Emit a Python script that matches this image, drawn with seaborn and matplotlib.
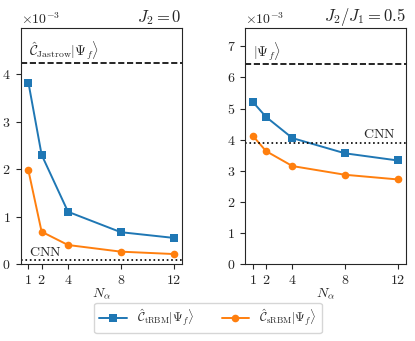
import numpy as np
import pandas as pd
import matplotlib
matplotlib.use("Agg")
import matplotlib.pyplot as plt
import seaborn as sns

n_alpha = [1, 2, 4, 8, 12]
left_trbm = [3.82, 2.30, 1.10, 0.67, 0.55]
left_srbm = [1.97, 0.68, 0.40, 0.26, 0.21]
right_trbm = [5.21, 4.73, 4.05, 3.56, 3.33]
right_srbm = [4.12, 3.63, 3.15, 2.87, 2.72]
left_jastrow = 4.23
left_cnn = 0.085
right_psi = 6.43
right_cnn = 3.90
labels = [r'$\hat{\mathcal{C}}_{\mathrm{tRBM}}|\Psi_f\rangle$',
          r'$\hat{\mathcal{C}}_{\mathrm{sRBM}}|\Psi_f\rangle$']
titles = [r'$J_2=0$', r'$J_2/J_1=0.5$']

sns.set_style('ticks')
plt.rcParams['font.family'] = ['cmr10']
plt.rcParams['mathtext.fontset'] = 'cm'
plt.rcParams['axes.formatter.use_mathtext'] = True
plt.rcParams['axes.unicode_minus'] = False

fig = plt.figure(figsize=(4.15, 3.41), dpi=100)
W, H = 415, 341
def box(x0, y0, x1, y1):
    return [x0 / W, 1 - y1 / H, (x1 - x0) / W, (y1 - y0) / H]
ax1 = fig.add_axes(box(20.5, 28, 181.5, 264))
ax2 = fig.add_axes(box(245, 28, 405.5, 264))

colors = ['#1f77b4', '#ff7f0e']
markers = ['s', 'o']

def panel(ax, trbm, srbm, ylim, yticks, hline, hlabel, cnn, cnn_right, title):
    df = pd.DataFrame({
        'N': n_alpha * 2,
        'val': np.array(list(trbm) + list(srbm)) * 1e-3,
        'series': [labels[0]] * 5 + [labels[1]] * 5,
    })
    for i, lab in enumerate(labels):
        sub = df[df['series'] == lab]
        sns.lineplot(data=sub, x='N', y='val', ax=ax, color=colors[i],
                     marker=markers[i], markersize=5.5, markeredgewidth=0,
                     linewidth=1.4, label=lab, legend=False)
    ax.axhline(hline * 1e-3, color='black', linestyle='--', linewidth=1.2)
    ax.axhline(cnn * 1e-3, color='black', linestyle=':', linewidth=1.2)
    ax.set_xlim(0.4, 12.6)
    ax.set_ylim(ylim[0] * 1e-3, ylim[1] * 1e-3)
    ax.set_xticks(n_alpha)
    ax.set_yticks(np.array(yticks) * 1e-3)
    ax.ticklabel_format(axis='y', style='sci', scilimits=(-3, -3), useMathText=True)
    ax.tick_params(labelsize=10, length=3.5, width=0.8)
    ax.set_xlabel(r'$N_\alpha$', fontsize=10, labelpad=0)
    ax.set_ylabel('')
    ax.set_title(title, loc='right', fontsize=12, pad=4)
    ax.annotate(hlabel, xy=(0.05, hline * 1e-3), xycoords=ax.get_yaxis_transform(),
                xytext=(0, 1), textcoords='offset points',
                fontsize=10, va='bottom', ha='left')
    if cnn_right:
        ax.annotate(r'$\mathrm{CNN}$', xy=(0.94, cnn * 1e-3), xycoords=ax.get_yaxis_transform(),
                    xytext=(0, 1), textcoords='offset points',
                    fontsize=10, va='bottom', ha='right')
    else:
        ax.annotate(r'$\mathrm{CNN}$', xy=(0.05, cnn * 1e-3), xycoords=ax.get_yaxis_transform(),
                    xytext=(0, 1), textcoords='offset points',
                    fontsize=10, va='bottom', ha='left')
    for s in ax.spines.values():
        s.set_linewidth(0.8)

panel(ax1, left_trbm, left_srbm, (0, 4.97), [0, 1, 2, 3, 4], left_jastrow,
      r'$\hat{\mathcal{C}}_{\mathrm{Jastrow}}|\Psi_f\rangle$', left_cnn, False, titles[0])
panel(ax2, right_trbm, right_srbm, (0, 7.59), [0, 1, 2, 3, 4, 5, 6, 7], right_psi,
      r'$|\Psi_f\rangle$', right_cnn, True, titles[1])

for ax in (ax1, ax2):
    ax.yaxis.get_offset_text().set_fontsize(10)

handles, labs = ax1.get_legend_handles_labels()
fig.legend(handles, labs, loc='center', bbox_to_anchor=(208 / W, 1 - 318 / H),
           ncol=2, fontsize=9, frameon=True, handlelength=2.2, columnspacing=2.2)

fig.savefig('out.png', dpi=100)
